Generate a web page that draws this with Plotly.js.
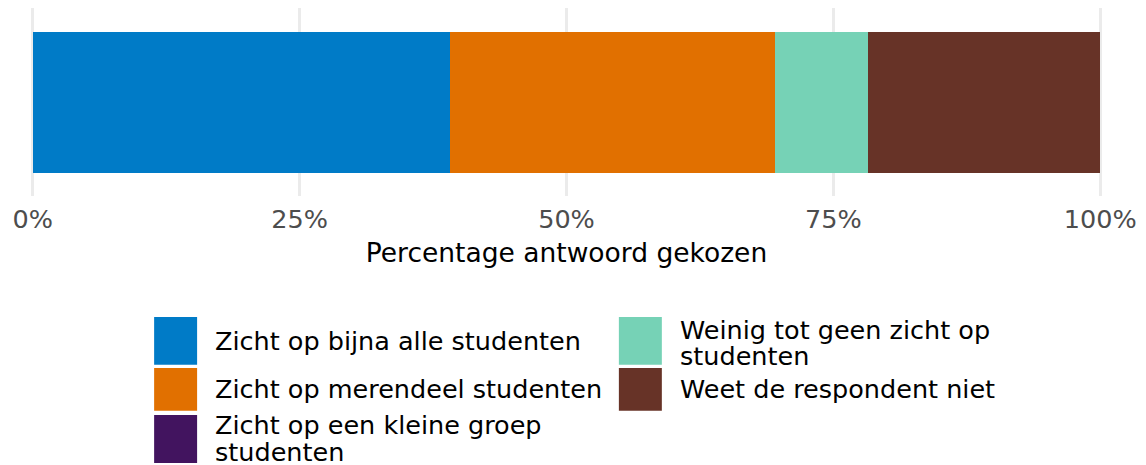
<!DOCTYPE html>
<html>
<head>
<meta charset="utf-8">
<script src="https://cdn.plot.ly/plotly-3.0.1.min.js"></script>
<style>html,body{margin:0;padding:0;background:#fff;}#chart{width:1146px;height:465px;}</style>
</head>
<body>
<div id="chart"></div>
<script>
// Data (n = 23 respondents; shares in percent)
const categories = [
  "Zicht op bijna alle studenten",
  "Zicht op merendeel studenten",
  "Zicht op een kleine groep studenten",
  "Weinig tot geen zicht op studenten",
  "Weet de respondent niet"
];
const percentages = [39.13, 30.43, 0, 8.70, 21.74];
const colors = ["#007BC7", "#E17000", "#42145F", "#76D2B6", "#673327"];
const legendLines = [
  ["Zicht op bijna alle studenten"],
  ["Zicht op merendeel studenten"],
  ["Zicht op een kleine groep", "studenten"],
  ["Weinig tot geen zicht op", "studenten"],
  ["Weet de respondent niet"]
];
const tickValues = [0, 25, 50, 75, 100];
const tickLabels = ["0%", "25%", "50%", "75%", "100%"];
const xTitle = "Percentage antwoord gekozen";

const W = 1146, H = 465;
const mL = 21.8, mR = 34.6, mT = 8, mB = 269;
const pw = W - mL - mR, ph = H - mT - mB;
const px2x = p => (p - mL) / pw;
const py2y = p => (H - mB - p) / ph;

const traces = categories.map((c, i) => ({
  type: "bar",
  orientation: "h",
  name: c,
  x: [percentages[i]],
  y: [0],
  width: 0.9,
  marker: {color: colors[i], line: {width: 0}},
  showlegend: false,
  hoverinfo: "skip"
}));

// manual legend (ggplot style, column-wise)
const legendSlots = [
  {kx: 154, tx: 214, ky0: 317, ky1: 364.7, ty: [341]},
  {kx: 154, tx: 214, ky0: 368, ky1: 410.7, ty: [389]},
  {kx: 154, tx: 214, ky0: 415, ky1: 463, ty: [425, 452]},
  {kx: 619, tx: 679, ky0: 317, ky1: 364.7, ty: [329.5, 355.5]},
  {kx: 619, tx: 679, ky0: 368, ky1: 410.7, ty: [389]}
];
const shapes = [], annotations = [];
legendSlots.forEach((s, i) => {
  shapes.push({type: "rect", xref: "paper", yref: "paper",
    x0: px2x(s.kx), x1: px2x(s.kx + 43), y0: py2y(s.ky1), y1: py2y(s.ky0),
    fillcolor: colors[i], line: {width: 0}, layer: "above"});
  legendLines[i].forEach((t, j) => {
    annotations.push({xref: "paper", yref: "paper", x: px2x(s.tx), y: py2y(s.ty[j]),
      xanchor: "left", yanchor: "middle", showarrow: false, align: "left",
      borderpad: 0,
      text: t, font: {family: "DejaVu Sans", size: 25.5, color: "#000000"}});
  });
});

const layout = {
  width: W, height: H,
  margin: {l: mL, r: mR, t: mT, b: mB, pad: 0},
  paper_bgcolor: "#ffffff", plot_bgcolor: "#ffffff",
  barmode: "stack",
  bargap: 0,
  font: {family: "DejaVu Sans"},
  xaxis: {
    range: [-1, 101], tickvals: tickValues, ticktext: tickLabels,
    showgrid: true, gridcolor: "#EBEBEB", gridwidth: 2.5,
    zeroline: false, showline: false, ticks: "",
    ticklabelstandoff: 5,
    tickfont: {family: "DejaVu Sans", size: 25.5, color: "#4D4D4D"},
    automargin: false,
    title: {text: xTitle, font: {family: "DejaVu Sans", size: 26.5, color: "#000000"}, standoff: 10}
  },
  yaxis: {range: [-0.6, 0.6], visible: false, fixedrange: true},
  shapes: shapes,
  annotations: annotations,
  showlegend: false
};

Plotly.newPlot("chart", traces, layout, {displayModeBar: false, staticPlot: true});
</script>
</body>
</html>
